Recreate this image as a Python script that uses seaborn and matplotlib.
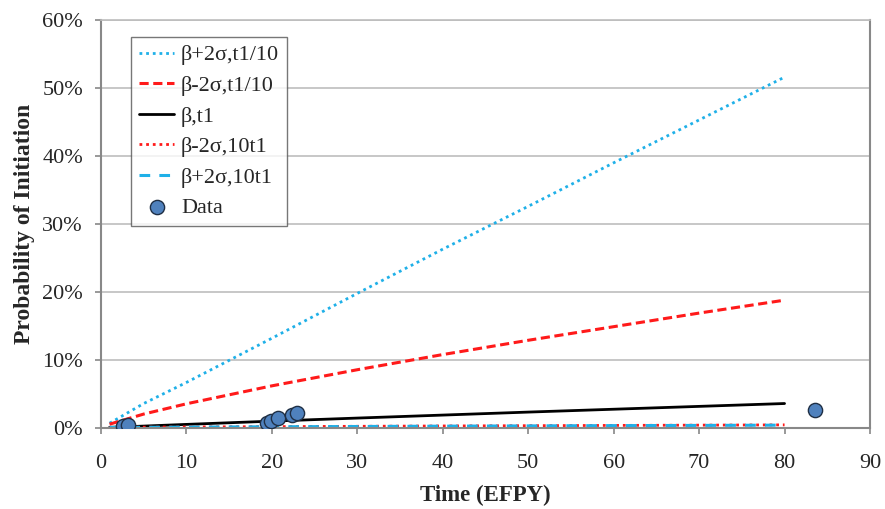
import matplotlib
matplotlib.use("Agg")
import matplotlib.pyplot as plt
import seaborn as sns
import pandas as pd
import numpy as np
from matplotlib.ticker import FuncFormatter

# Data (percent)
t_curve = [1, 5, 10, 20, 30, 40, 50, 60, 70, 80]
bp2s_t1_10 = [0.7, 3.6, 6.7, 13.2, 19.8, 26.3, 32.6, 39.0, 45.3, 51.6]
bm2s_t1_10 = [0.56, 2.05, 3.56, 6.2, 8.57, 10.8, 12.9, 14.9, 16.9, 18.8]
b_t1 = [0.1, 0.28, 0.53, 1.01, 1.46, 1.90, 2.34, 2.76, 3.18, 3.6]
bm2s_10t1 = [0.1, 0.12, 0.15, 0.2, 0.25, 0.3, 0.34, 0.38, 0.42, 0.46]
bp2s_10t1 = [0.08, 0.10, 0.13, 0.18, 0.22, 0.27, 0.31, 0.35, 0.38, 0.42]

data_t = [2.6, 3.2, 19.4, 19.9, 20.7, 22.3, 22.9, 83.6]
data_p = [0.34, 0.48, 0.69, 1.07, 1.47, 1.95, 2.25, 2.6]

labels = ["β+2σ,t1/10", "β-2σ,t1/10", "β,t1", "β-2σ,10t1", "β+2σ,10t1", "Data"]

sns.set_style("white")
plt.rcParams['font.family'] = ['Liberation Serif', 'DejaVu Serif']

fig = plt.figure(figsize=(8.85, 5.09), dpi=100)
ax = fig.add_axes([101/885, 1 - 428/509, (870 - 101)/885, (428 - 20)/509])

styles = [
    (bp2s_t1_10, "#1FB0E8", (0, (1, 1.4)), 2.0),
    (bm2s_t1_10, "#FF1A1A", (0, (3, 1.5)), 2.2),
    (b_t1, "black", "-", 2.0),
    (bm2s_10t1, "#FF1A1A", (0, (1, 1.4)), 2.0),
    (bp2s_10t1, "#1FB0E8", (0, (3.5, 3)), 2.2),
]
for (vals, col, ls, lw), lab in zip(styles, labels[:5]):
    df = pd.DataFrame({"t": t_curve, "p": vals})
    sns.lineplot(data=df, x="t", y="p", ax=ax, color=col, linestyle=ls,
                 linewidth=lw, label=lab)

dfd = pd.DataFrame({"t": data_t, "p": data_p})
sns.scatterplot(data=dfd, x="t", y="p", ax=ax, s=105, color="#4F81BD",
                edgecolor="#1F2F45", linewidth=1.0, zorder=5, label=labels[5])

ax.set_xlim(0, 90)
ax.set_ylim(0, 60)
ax.set_xticks(range(0, 91, 10))
ax.set_yticks(range(0, 61, 10))
ax.yaxis.set_major_formatter(FuncFormatter(lambda v, p: f"{int(v)}%"))
ax.grid(axis="y", color="#BDBDBD", linewidth=1.2)
ax.grid(axis="x", visible=False)
ax.set_axisbelow(True)
for s in ["left", "bottom", "right"]:
    ax.spines[s].set_color("#888888")
    ax.spines[s].set_linewidth(1.5)
ax.spines["top"].set_color("#BDBDBD")
ax.spines["top"].set_linewidth(1.2)
ax.tick_params(axis="both", labelsize=16, length=4, direction="out",
               color="#888888", width=1.2, left=True, bottom=True)
ax.tick_params(axis="x", pad=15)
ax.tick_params(axis="y", pad=9)

ax.set_xlabel("Time (EFPY)", fontsize=16.5, fontweight="bold", labelpad=8)
ax.set_ylabel("Probability of Initiation", fontsize=17, fontweight="bold", labelpad=5)

leg = ax.legend(loc="upper left", bbox_to_anchor=(0.039, 0.958), fontsize=16,
                frameon=True, fancybox=False, edgecolor="#555555",
                handlelength=1.6, handletextpad=0.3, labelspacing=0.45,
                borderpad=0.35, borderaxespad=0)
leg.get_frame().set_linewidth(1.0)

fig.savefig("out.png", dpi=100)
